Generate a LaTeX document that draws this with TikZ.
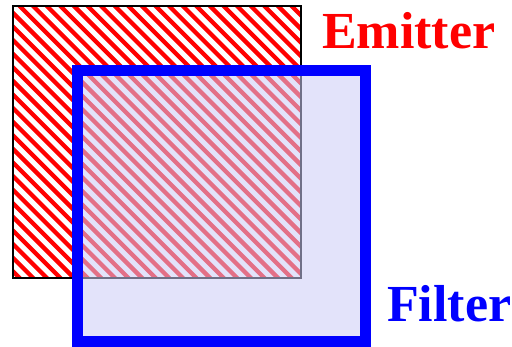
\documentclass[tikz,border=0pt]{standalone}
\usepackage{xcolor}
\usepackage{fontspec}
\setmainfont{Liberation Serif}
\usepackage{tikz}
\usetikzlibrary{positioning}
\definecolor{emitred}{HTML}{FF0000}
\definecolor{filterblue}{HTML}{0000FF}
\definecolor{filterfill}{HTML}{CCCCF6}

\begin{document}
\begin{tikzpicture}[x=1pt, y=-1pt,
    biglabel/.style={inner sep=0pt, anchor=base west,
                     font=\bfseries\fontsize{52}{52}\selectfont}]
    \useasboundingbox (0,0) rectangle (512,347);
    % emitter: red hatched square
    \begin{scope}
      \clip (13,6) rectangle (301,278);
      \foreach \c in {-272,-258.4,...,300}
        \draw[emitred, line width=4.3pt] (13+\c-300,-300+13) -- (\c+600,600);
    \end{scope}
    \draw[black, line width=1.2pt] (13,6) rectangle (301,278);
    % filter: translucent blue frame on top
    \draw[filterblue, line width=11pt, fill=filterfill, fill opacity=0.55]
      (77,71) rectangle (365,342);
    \node[biglabel, text=emitred] (emitlabel) at (322,49) {Emitter};
    \node[biglabel, text=filterblue] (filterlabel) at (387,322) {Filter};
  \end{tikzpicture}
\end{document}
